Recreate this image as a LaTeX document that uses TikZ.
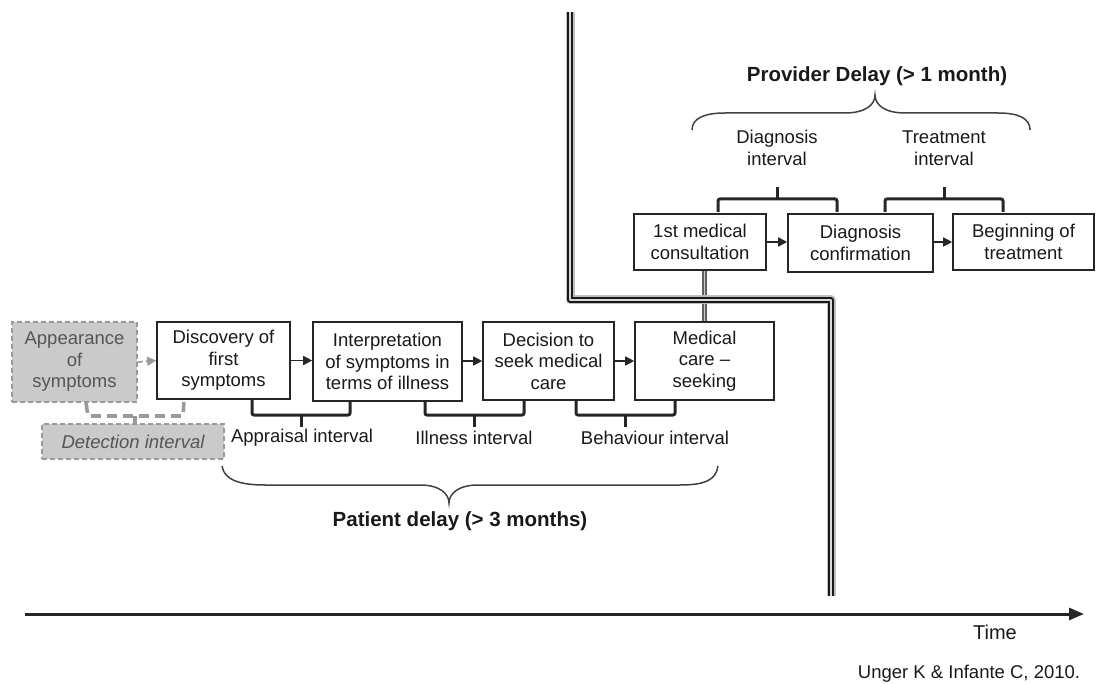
\documentclass[tikz,border=0pt]{standalone}
\usepackage{fontspec}
\setmainfont{Liberation Sans}
\usetikzlibrary{arrows.meta}
\definecolor{boxgray}{HTML}{CACACA}
\definecolor{dashgray}{HTML}{9A9A9A}
\definecolor{txtgray}{HTML}{555555}
\begin{document}
\begin{tikzpicture}[x=1pt,y=-1pt,
  every node/.style={font=\fontsize{18.5}{21.5}\selectfont, text=black!90},
  box/.style={draw=black!85, line width=1.6pt, fill=white, align=center, inner sep=0pt},
  graybox/.style={draw=dashgray, dashed, dash pattern=on 5pt off 3pt, line width=1.5pt, fill=boxgray, align=center, inner sep=0pt, text=txtgray},
  flow/.style={line width=1.7pt, black!85, -{Triangle[length=9pt,width=9pt]}},
  grayflow/.style={line width=1.7pt, dashgray, dash pattern=on 5pt off 3pt, -{Triangle[length=9pt,width=9pt]}},
  bracket/.style={line width=3pt, black!85, rounded corners=2pt},
  graybracket/.style={line width=3.6pt, dashgray, dash pattern=on 10pt off 6pt},
  brace/.style={line width=1.5pt, black!75},
  lbl/.style={align=center},
  title/.style={font=\fontsize{20.5}{24}\selectfont\bfseries}
]
\useasboundingbox (0,0) rectangle (1100,684);

% barrier (double line)
\coordinate (bTop) at (570,12);
\coordinate (bC1) at (570,300);
\coordinate (bC2) at (831,300);
\coordinate (bBot) at (831,596);

% lower boxes
\node[graybox, minimum width=125pt, minimum height=80pt] (app) at (74.5,362) {Appearance\\of\\symptoms};
\node[box, minimum width=133pt, minimum height=77pt] (disc) at (223.5,360.5) {Discovery of\\first\\symptoms};
\node[box, minimum width=149pt, minimum height=79pt] (interp) at (387.5,361.5) {Interpretation\\of symptoms in\\terms of illness};
\node[box, minimum width=131pt, minimum height=78pt] (decis) at (548.5,361) {Decision to\\seek medical\\care};
\node[box, minimum width=139pt, minimum height=78pt] (med) at (704.5,361) {Medical\\care --\\seeking};
\node[graybox, minimum width=182pt, minimum height=35pt, font=\fontsize{18.5}{21.5}\selectfont\itshape] (det) at (133,441.5) {Detection interval};

% upper boxes
\node[box, minimum width=132pt, minimum height=56pt] (cons) at (700,242) {1st medical\\consultation};
\node[box, minimum width=145pt, minimum height=58pt] (diag) at (860.5,243) {Diagnosis\\confirmation};
\node[box, minimum width=141pt, minimum height=56pt] (beg) at (1023.5,242) {Beginning of\\treatment};

% connector from consultation to medical care
\draw[gray!75!black, line width=1.4pt, double=gray!40, double distance=1.8pt] (cons.south -| med.north) -- (med.north);

% barrier
\draw[gray!50, line width=9pt, line join=round] (bTop) -- (bC1) -- (bC2) -- (bBot);
\draw[black!90, line width=2pt, double=gray!30, double distance=1.6pt, line join=round] (bTop) -- (bC1) -- (bC2) -- (bBot);

% flow arrows
\draw[grayflow] (app.east) -- (disc.west);
\draw[flow] (disc.east) -- (interp.west |- disc.east);
\draw[flow] (interp.east |- decis.east) -- (decis.west);
\draw[flow] (decis.east) -- (med.west);
\draw[flow] (cons.east) -- (diag.west |- cons.east);
\draw[flow] (diag.east |- beg.west) -- (beg.west);

% lower brackets
\draw[graybracket] (86,403) -- (88,416) -- (183,416) -- (184,401);
\draw[graybracket, dash pattern=on 6pt off 0pt] (135,416) -- (det.north -| 135,416);
\draw[bracket] (252,400) -- (252,415) -- (350,415) -- (350,402);
\draw[bracket] (301,415) -- (301,427);
\node[lbl] (appr) at (302,438) {Appraisal interval};
\draw[bracket] (425,402) -- (425,415) -- (524,415) -- (524,401);
\draw[bracket] (474,415) -- (474,427);
\node[lbl] (ill) at (474,438) {Illness interval};
\draw[bracket] (576,401) -- (576,415) -- (675,415) -- (675,401);
\draw[bracket] (625,415) -- (625,427);
\node[lbl] (beh) at (655,438) {Behaviour interval};

% upper brackets
\draw[bracket] (718,212) -- (718,199) -- (837,199) -- (837,212);
\draw[bracket] (777,199) -- (777,187);
\node[lbl] (dint) at (777,148) {Diagnosis\\interval};
\draw[bracket] (885,212) -- (885,199) -- (1003,199) -- (1003,212);
\draw[bracket] (944,199) -- (944,187);
\node[lbl] (tint) at (944,148) {Treatment\\interval};

% provider brace
\draw[brace] (692,130) .. controls (692,118) and (705,113) .. (725,113) -- (845,113)
  .. controls (865,113) and (875,105) .. (875,95)
  .. controls (875,105) and (885,113) .. (905,113) -- (998,113)
  .. controls (1018,113) and (1030,118) .. (1030,130);
\node[title] (prov) at (877,76) {Provider Delay (> 1 month)};

% patient brace
\draw[brace] (222,466) .. controls (224,480) and (240,485) .. (265,485) -- (420,485)
  .. controls (440,485) and (449,494) .. (449,503)
  .. controls (449,494) and (458,485) .. (478,485) -- (680,485)
  .. controls (705,485) and (716,480) .. (718,466);
\node[title] (pat) at (460,521) {Patient delay (> 3 months)};

% time axis
\coordinate (t0) at (25,614);
\coordinate (t1) at (1084,614);
\draw[line width=3pt, black!85, -{Triangle[length=15pt,width=12pt]}] (t0) -- (t1);
\node[font=\fontsize{20}{24}\selectfont] (time) at (995,632) {Time};
\node (cite) at (969,674) {Unger K \& Infante C, 2010.};
\end{tikzpicture}
\end{document}
